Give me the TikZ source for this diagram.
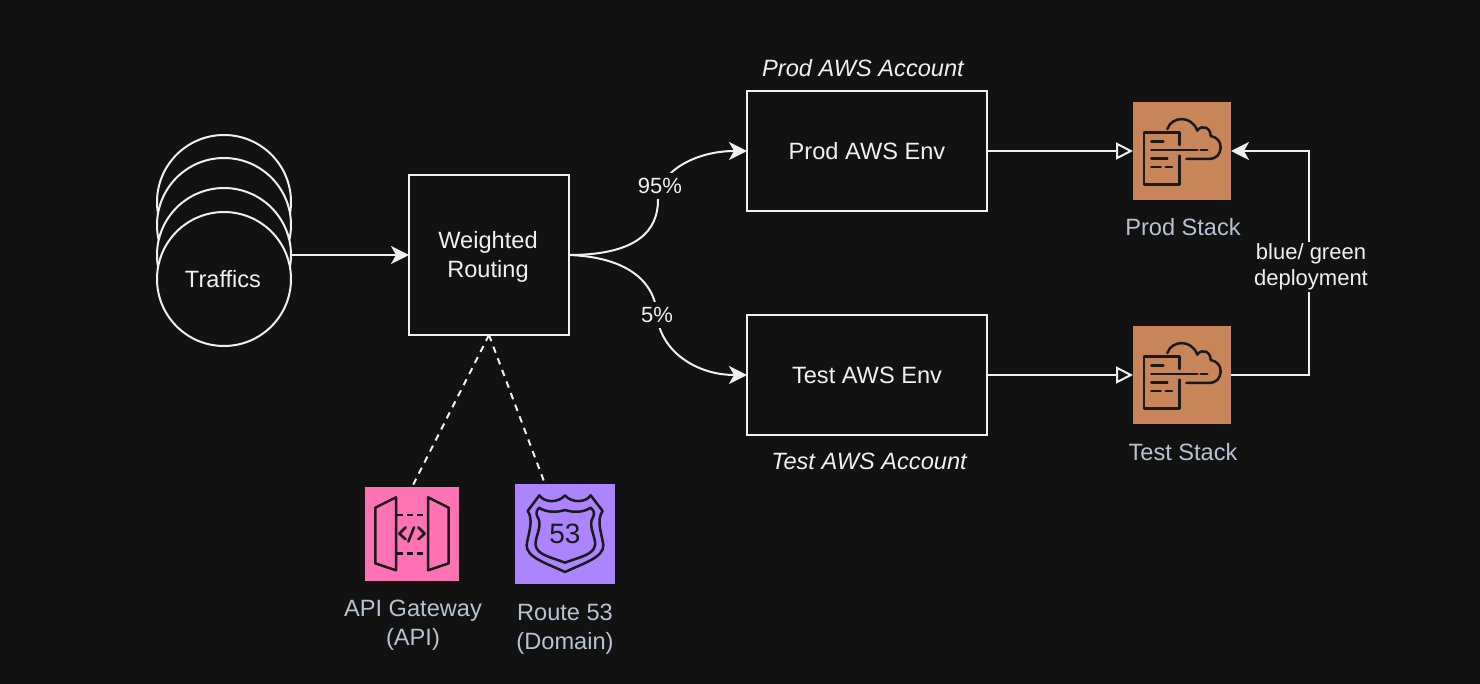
\documentclass[tikz,border=0pt]{standalone}
\usepackage{fontspec}
\setmainfont{Liberation Sans}
\usetikzlibrary{arrows.meta}
\definecolor{bgdark}{HTML}{121212}
\definecolor{linelight}{HTML}{F0F0F0}
\definecolor{captiongrey}{HTML}{B8C2D0}
\definecolor{stackorange}{HTML}{C8855A}
\definecolor{gatewaypink}{HTML}{FF73B5}
\definecolor{domainpurple}{HTML}{AC84FF}
\definecolor{glyphdark}{HTML}{1A1A1A}
\tikzset{
    flowbox/.style={draw=linelight, line width=1pt, align=center, inner sep=0pt, outer sep=0pt, text=linelight, font=\fontsize{11.8}{14.5}\selectfont},
    roundbox/.style={draw=linelight, fill=bgdark, circle, line width=1pt, minimum size=67pt, inner sep=0pt, outer sep=0pt, text=linelight, font=\fontsize{11.8}{14.5}\selectfont},
    iconbox/.style={inner sep=0pt, outer sep=0pt},
    caption/.style={text=captiongrey, align=center, font=\fontsize{11.8}{14.5}\selectfont},
    account/.style={text=linelight, font=\fontsize{11.8}{14.5}\selectfont\itshape},
    edgelabel/.style={text=linelight, fill=bgdark, align=center, inner sep=1pt, minimum height=13pt, font=\fontsize{11}{13}\selectfont},
    flow/.style={draw=linelight, line width=1pt, -{Stealth[length=9pt,width=9pt,inset=2.5pt]}},
    openflow/.style={draw=linelight, line width=1pt, -{Triangle[open,length=8.5pt,width=8.5pt]}},
    linkline/.style={draw=linelight, line width=1pt, dash pattern=on 3.3pt off 2.9pt},
    glyph/.style={draw=glyphdark, line width=1.25pt, line cap=round, line join=round},
    stackicon/.pic={
        \begin{scope}[scale=1/3, shift={(-69,-36)}]
            \draw[glyph] (208,165) -- (208,128) -- (102,128) -- (102,284) -- (208,284) -- (208,197);
            \draw[glyph] (124,155) -- (160,155);
            \draw[glyph] (124,180) -- (262,180);
            \draw[glyph] (272,180) -- (292,180);
            \draw[glyph] (124,205) -- (172,205);
            \draw[glyph] (124,231) -- (152,231);
            \draw[glyph] (167,231) -- (186,231);
            \draw[glyph] (172,117) .. controls (185,78) and (245,75) .. (262,122) .. controls (275,102) and (302,112) .. (302,138) .. controls (322,142) and (332,155) .. (332,172) .. controls (332,192) and (318,207) .. (298,207) -- (229,207);
        \end{scope}
    },
    gatewayicon/.pic={
        \begin{scope}[scale=1/3, shift={(-75,-51)}]
            \draw[glyph] (168,82) -- (106,113) -- (106,280) -- (168,301) -- cycle;
            \draw[glyph] (264,82) -- (326,113) -- (326,280) -- (264,301) -- cycle;
            \draw[glyph, line cap=butt, dash pattern=on 3pt off 2pt] (172,135) -- (262,135);
            \draw[glyph, line cap=butt, dash pattern=on 3pt off 2pt] (172,250) -- (262,250);
            \draw[glyph] (197,172) -- (178,191) -- (197,208);
            \draw[glyph] (222,172) -- (205,215);
            \draw[glyph] (235,172) -- (254,191) -- (235,208);
        \end{scope}
    },
    domainicon/.pic={
        \begin{scope}[scale=1/3, shift={(-525,-42)}]
            \draw[glyph] (598,76) .. controls (612,98) and (655,100) .. (675,76) .. controls (695,100) and (738,98) .. (752,76) -- (788,123) .. controls (768,150) and (785,190) .. (790,225) .. controls (792,262) and (730,280) .. (675,306) .. controls (620,280) and (558,262) .. (560,225) .. controls (565,190) and (582,150) .. (563,123) -- cycle;
            \draw[glyph] (597,113) .. controls (620,128) and (650,128) .. (675,120) .. controls (700,128) and (730,128) .. (752,113) .. controls (768,128) and (762,135) .. (755,150) .. controls (748,175) and (768,205) .. (765,225) .. controls (762,255) and (715,262) .. (675,278) .. controls (635,262) and (590,255) .. (587,225) .. controls (584,205) and (604,175) .. (597,150) .. controls (590,135) and (584,128) .. (597,113) -- cycle;
        \end{scope}
    },
}

\begin{document}
\begin{tikzpicture}[x=0.5pt, y=-0.5pt]
    \fill[bgdark] (0,0) rectangle (1480,684);
    \useasboundingbox (0,0) rectangle (1480,684);

    % traffic circles
    \node[roundbox] (trafficA) at (224,202) {};
    \node[roundbox] (trafficB) at (224,225) {};
    \node[roundbox] (trafficC) at (224,255) {};
    \node[roundbox] (traffics) at (224,279) {\hspace{-1pt}Traffics};

    % boxes
    \node[flowbox, minimum width=80pt, minimum height=80pt] (routing) at (489,255) {};
    \node[text=linelight, align=center, font=\fontsize{11.8}{14.5}\selectfont] (routingtext) at (488,257) {Weighted\\Routing};
    \node[flowbox, minimum width=120pt, minimum height=60pt] (prodenv) at (867,151) {Prod AWS Env};
    \node[flowbox, minimum width=120pt, minimum height=60pt] (testenv) at (867,375) {Test AWS Env};
    \node[account] (prodaccount) at (863,68) {Prod AWS Account};
    \node[account] (testaccount) at (869,461) {Test AWS Account};

    % icons
    \node[iconbox, fill=stackorange, minimum size=49pt] (prodstack) at (1182,151) {};
    \node[iconbox, fill=stackorange, minimum size=49pt] (teststack) at (1182,375) {};
    \node[iconbox, fill=gatewaypink, minimum size=47pt] (gateway) at (412,534) {};
    \node[iconbox, fill=domainpurple, minimum size=50pt] (domain) at (565,534) {};
    \pic at (prodstack.north west) {stackicon};
    \pic at (teststack.north west) {stackicon};
    \pic at (gateway.north west) {gatewayicon};
    \pic at (domain.north west) {domainicon};
    \node[text=glyphdark, font=\fontsize{14}{15}\selectfont] (domainsign) at (565,534) {53};

    \node[caption] (prodcaption) at (1183,227) {Prod Stack};
    \node[caption] (testcaption) at (1183,452) {Test Stack};
    \node[caption] (gatewaycaption) at (413,625) {API Gateway\\(API)};
    \node[caption] (domaincaption) at (565,629) {Route 53\\(Domain)};

    % connectors
    \draw[flow] (traffics.east |- routing.west) -- (routing.west);
    \draw[flow] (routing.east) .. controls (638,255) and (658,230) .. (658,200) .. controls (658,172) and (695,151) .. (prodenv.west);
    \draw[flow] (routing.east) .. controls (625,257) and (655,280) .. (657,315) .. controls (660,350) and (695,375) .. (testenv.west);
    \node[edgelabel] (prodshare) at (660,186) {95\%};
    \node[edgelabel] (testshare) at (657,315) {5\%};

    \draw[openflow] (prodenv.east) -- (prodstack.west);
    \draw[openflow] (testenv.east) -- (teststack.west);

    \coordinate (deployturn) at (1309,265);
    \draw[flow] (teststack.east) -| (deployturn) |- (prodstack.east);
    \node[edgelabel] (deploylabel) at (1311,267) {blue/ green\\deployment};

    \coordinate (domaintop) at (545,484);
    \draw[linkline] (routing.south) -- (gateway.north);
    \draw[linkline] (routing.south) -- (domaintop);
\end{tikzpicture}
\end{document}
